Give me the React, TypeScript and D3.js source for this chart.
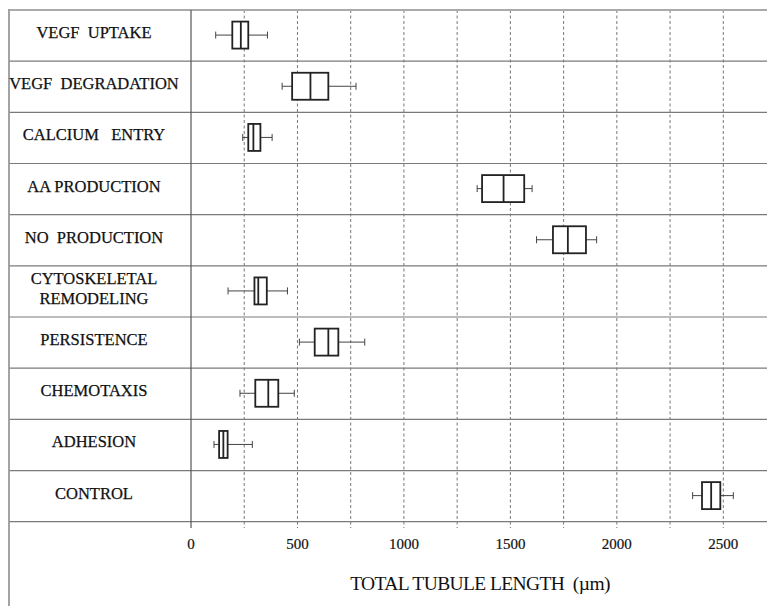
import React from 'react'
import * as d3 from 'd3'

// row labels (top to bottom), "\n" splits a label over two lines
const categories = [
    'VEGF  UPTAKE',
    'VEGF  DEGRADATION',
    'CALCIUM   ENTRY',
    'AA PRODUCTION',
    'NO  PRODUCTION',
    'CYTOSKELETAL\nREMODELING',
    'PERSISTENCE',
    'CHEMOTAXIS',
    'ADHESION',
    'CONTROL',
]

// five-number summaries (µm)
const whiskerLow = [116, 428, 243, 1344, 1623, 174, 509, 230, 108, 2356]
const quartile1 = [194, 475, 269, 1367, 1700, 298, 581, 302, 132, 2400]
const medians = [234, 561, 293, 1468, 1770, 316, 645, 363, 152, 2443]
const quartile3 = [269, 645, 326, 1565, 1855, 356, 692, 410, 172, 2486]
const whiskerHigh = [359, 775, 381, 1602, 1905, 453, 816, 485, 288, 2547]

const tickLabels = [0, 500, 1000, 1500, 2000, 2500]
const gridValues = [250, 500, 750, 1000, 1250, 1500, 1750, 2000, 2250, 2500]

const W = 767
const H = 606

const App = () => {
    const left = 9
    const colX = 191
    const top = 10
    const bottom = 521.7

    const x = d3.scaleLinear().domain([0, 2500]).range([colX, 723.3])
    const y = d3.scaleBand().domain(categories).range([top, bottom])
    const boxH = 27
    const capH = 7

    return (
        <svg width={W} height={H} style={{ position: 'absolute', left: 0, top: 0, background: '#fff' }}
            fontFamily="'Liberation Serif', 'Times New Roman', serif">
            {/* dashed vertical grid */}
            {gridValues.map((v) => (
                <line key={'g' + v} x1={x(v)} x2={x(v)} y1={top} y2={528}
                    stroke="#777" strokeWidth={1} strokeDasharray="3,2.5" />
            ))}
            {/* row separators */}
            {categories.map((c, i) => (
                <line key={'r' + i} x1={left} x2={W} y1={(y(c) as number) + y.bandwidth()} y2={(y(c) as number) + y.bandwidth()}
                    stroke="#7a7a7a" strokeWidth={1.2} />
            ))}
            <line x1={left} x2={W} y1={top} y2={top} stroke="#aaa" strokeWidth={1.8} />
            <line x1={left} x2={left} y1={top - 1} y2={H} stroke="#999" strokeWidth={1.8} />
            <line x1={colX} x2={colX} y1={top} y2={528} stroke="#555" strokeWidth={1.2} />

            {/* row labels */}
            {categories.map((c, i) => {
                const lines = c.split('\n')
                const cy = (y(c) as number) + y.bandwidth() / 2 - 3
                return (
                    <text key={'l' + i} x={94} y={cy} textAnchor="middle" fontSize={16.5} fill="#111"
                        stroke="#111" strokeWidth={0.25} style={{ whiteSpace: 'pre' }}>
                        {lines.map((ln, j) => (
                            <tspan key={j} x={94} y={cy + (j - (lines.length - 1) / 2) * 20} dominantBaseline="central">{ln}</tspan>
                        ))}
                    </text>
                )
            })}

            {/* box plots */}
            {categories.map((c, i) => {
                const cy = (y(c) as number) + y.bandwidth() / 2 - 0.5
                return (
                    <g key={'b' + i}>
                        <line x1={x(whiskerLow[i])} x2={x(quartile1[i])} y1={cy} y2={cy} stroke="#444" strokeWidth={1} />
                        <line x1={x(quartile3[i])} x2={x(whiskerHigh[i])} y1={cy} y2={cy} stroke="#444" strokeWidth={1} />
                        <line x1={x(whiskerLow[i])} x2={x(whiskerLow[i])} y1={cy - capH / 2} y2={cy + capH / 2} stroke="#444" strokeWidth={1} />
                        <line x1={x(whiskerHigh[i])} x2={x(whiskerHigh[i])} y1={cy - capH / 2} y2={cy + capH / 2} stroke="#444" strokeWidth={1} />
                        <rect x={x(quartile1[i])} y={cy - boxH / 2} width={x(quartile3[i]) - x(quartile1[i])} height={boxH}
                            fill="#fff" stroke="#222" strokeWidth={1.8} />
                        <line x1={x(medians[i])} x2={x(medians[i])} y1={cy - boxH / 2} y2={cy + boxH / 2} stroke="#222" strokeWidth={1.8} />
                    </g>
                )
            })}

            {/* tick labels */}
            {tickLabels.map((t) => (
                <text key={'t' + t} x={x(t)} y={549} textAnchor="middle" fontSize={15} fill="#111"
                    stroke="#111" strokeWidth={0.2}>{t}</text>
            ))}

            <text x={480} y={590} textAnchor="middle" fontSize={19.5} fill="#111" letterSpacing={-0.6}
                style={{ whiteSpace: 'pre' }}>{'TOTAL TUBULE LENGTH  (µm)'}</text>
        </svg>
    )
}

export default App
